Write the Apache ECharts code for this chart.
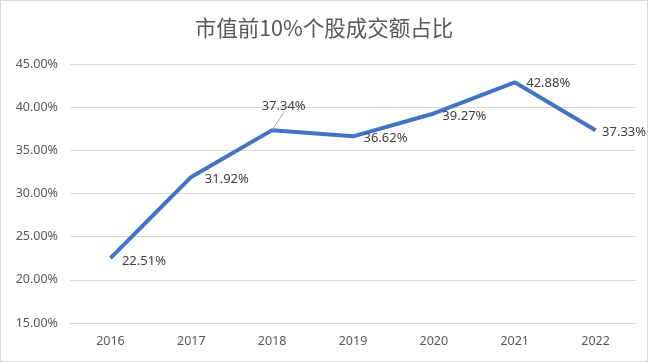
<!DOCTYPE html>
<html><head><meta charset="utf-8">
<script src="https://cdn.jsdelivr.net/npm/echarts@6/dist/echarts.min.js"></script>
<style>html,body{margin:0;padding:0;background:#fff}
#c{width:648px;height:362px;box-sizing:border-box;border:1px solid #d9d9d9}</style>
</head><body><div id="c"></div>
<script>
const titleText = '市值前10%个股成交额占比';
const years = ['2016','2017','2018','2019','2020','2021','2022'];
const shares = [22.51, 31.92, 37.34, 36.62, 39.27, 42.88, 37.33];
const yTicks = [15, 20, 25, 30, 35, 40, 45];

const seriesData = shares.map((v,i)=> i===2
  ? {value:v, labelLine:{show:true,lineStyle:{color:'#a6a6a6',width:1}}}
  : {value:v});

const chart = echarts.init(document.getElementById('c'), null, {renderer:'canvas'});
chart.setOption({
  animation:false,
  title:{text:titleText,left:'center',top:11,textStyle:{fontFamily:'Noto Sans CJK SC',fontSize:21.5,fontWeight:'normal',color:'#595959'}},
  grid:{left:69,right:11,top:63,bottom:38},
  xAxis:{type:'category',data:years,boundaryGap:true,
    axisLine:{show:true,lineStyle:{color:'#d9d9d9'}},axisTick:{show:false},
    axisLabel:{color:'#595959',fontSize:12.5,fontFamily:'Noto Sans',margin:12}},
  yAxis:{type:'value',min:yTicks[0],max:yTicks[yTicks.length-1],interval:5,
    axisLine:{show:false},axisTick:{show:false},
    splitLine:{lineStyle:{color:'#d9d9d9'}},
    axisLabel:{color:'#595959',fontSize:12.5,fontFamily:'Noto Sans',margin:12,formatter:v=>v.toFixed(2)+'%'}},
  series:[{type:'line',data:seriesData,symbol:'circle',symbolSize:1,showSymbol:true,
    itemStyle:{color:'rgba(68,114,196,0)'},
    lineStyle:{color:'#4472C4',width:4},
    label:{show:true,position:'right',distance:8,color:'#404040',fontSize:13,fontFamily:'Noto Sans',
      formatter:p=>p.value.toFixed(2)+'%'},
    labelLine:{show:false},
    labelLayout:function(p){
      const i=p.dataIndex;
      const offs=[[3,3],[5,2],[-19,-24],[2,2],[0,3],[3,1],[-2,2]];
      return {dx:offs[i][0],dy:offs[i][1]};
    }
  }]
});
</script></body></html>
